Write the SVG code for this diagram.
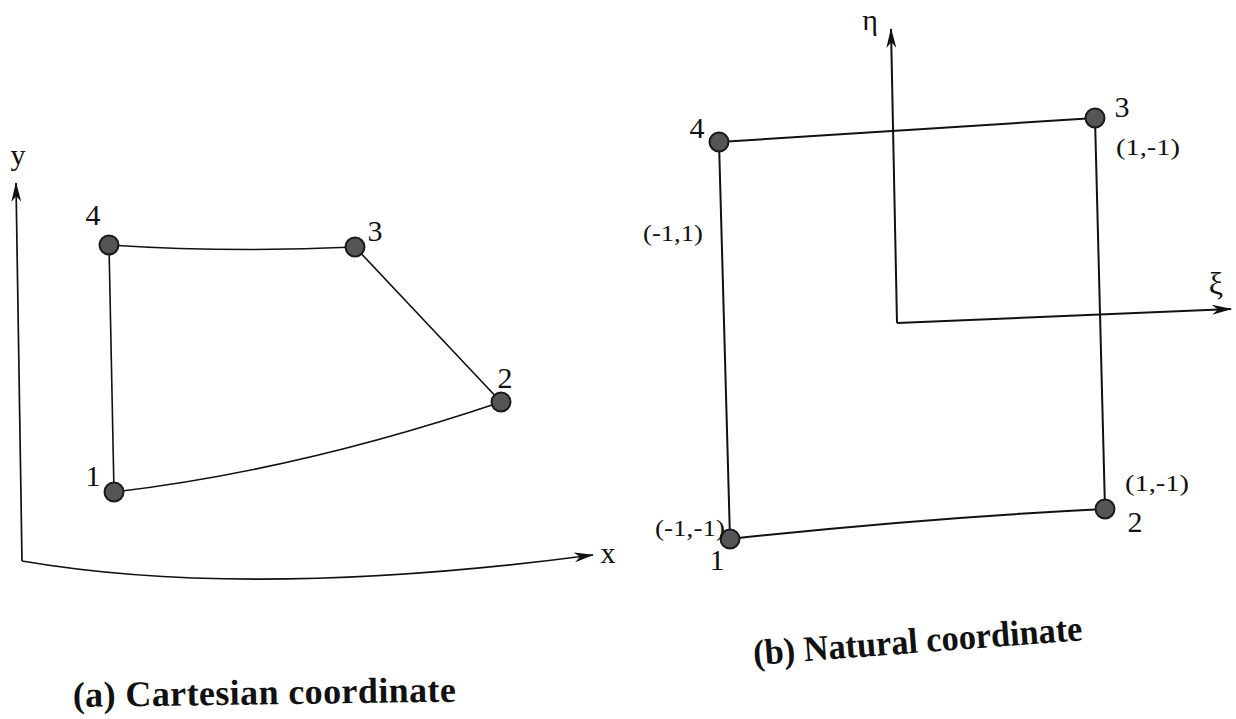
<svg xmlns="http://www.w3.org/2000/svg" width="1236" height="719" viewBox="0 0 1236 719">
<defs>
<marker id="arr" viewBox="0 0 20 10" refX="19" refY="5" markerWidth="20" markerHeight="10" markerUnits="userSpaceOnUse" orient="auto">
<path d="M0,0 L20,5 L0,10 L6,5 Z" fill="#111"/>
</marker>
<style>
.bg{fill:#fff}
.ln{fill:none;stroke:#111;stroke-width:1.6}
.ln2{fill:none;stroke:#111;stroke-width:2}
.ax{fill:none;stroke:#111;stroke-width:1.7;marker-end:url(#arr)}
.node{fill:#555;stroke:#1a1a1a;stroke-width:2}
.num{font-family:"Liberation Serif","Times New Roman",serif;font-size:30px;fill:#111;text-anchor:middle}
.crd{font-family:"Liberation Serif","Times New Roman",serif;font-size:24px;fill:#111;text-anchor:middle}
.axl{font-family:"Liberation Serif","Times New Roman",serif;font-size:30px;fill:#111;text-anchor:middle}
.cap{font-family:"Liberation Serif","Times New Roman",serif;font-size:36px;font-weight:bold;fill:#111}
</style>
</defs>
<rect class="bg" x="0" y="0" width="1236" height="719"/>

<g id="connectors">
<!-- left: Cartesian -->
<path class="ax" d="M22,561 L16,183"/>
<path class="ax" d="M22,561 Q250,600 593,555"/>
<path class="ln" d="M109,245 Q232,253 355,247"/>
<path class="ln" d="M355,247 L501,402"/>
<path class="ln" d="M501,402 Q300,470 114,492"/>
<path class="ln" d="M109,245 L114,492"/>
<!-- right: Natural -->
<path class="ln2" d="M719,142 L1095,118"/>
<path class="ln2" d="M1095,118 L1105,509"/>
<path class="ln2" d="M1105,509 Q920,518 730,539"/>
<path class="ln2" d="M719,142 L730,539"/>
<path class="ax" style="stroke-width:2" d="M897,323 L891,29"/>
<path class="ax" style="stroke-width:2" d="M897,323 L1231,309"/>
</g>

<g id="axis-labels">
<text class="axl" x="18" y="165">y</text>
<text class="axl" x="608" y="563">x</text>
<text class="axl" x="870" y="30">η</text>
<text class="axl" x="1216" y="294" style="font-size:32px">ξ</text>
</g>

<g id="cart-node-1"><circle class="node" cx="114" cy="492" r="9.5"/><text class="num" x="93" y="486">1</text></g>
<g id="cart-node-2"><circle class="node" cx="501" cy="402" r="9.5"/><text class="num" x="505" y="388">2</text></g>
<g id="cart-node-3"><circle class="node" cx="355" cy="247" r="9.5"/><text class="num" x="375" y="241">3</text></g>
<g id="cart-node-4"><circle class="node" cx="109" cy="245" r="9.5"/><text class="num" x="93" y="225">4</text></g>

<g id="nat-node-1"><circle class="node" cx="730" cy="539" r="9.5"/><text class="num" x="717" y="570">1</text><text class="crd" x="690" y="536" textLength="70" lengthAdjust="spacingAndGlyphs">(-1,-1)</text></g>
<g id="nat-node-2"><circle class="node" cx="1105" cy="509" r="9.5"/><text class="num" x="1135" y="532">2</text><text class="crd" x="1157" y="491" textLength="64" lengthAdjust="spacingAndGlyphs">(1,-1)</text></g>
<g id="nat-node-3"><circle class="node" cx="1095" cy="118" r="9.5"/><text class="num" x="1122" y="117">3</text><text class="crd" x="1148" y="155" textLength="64" lengthAdjust="spacingAndGlyphs">(1,-1)</text></g>
<g id="nat-node-4"><circle class="node" cx="719" cy="142" r="9.5"/><text class="num" x="697" y="138">4</text><text class="crd" x="673" y="241" textLength="60" lengthAdjust="spacingAndGlyphs">(-1,1)</text></g>

<g id="captions">
<text class="cap" x="73" y="707" textLength="383" lengthAdjust="spacing" transform="rotate(-0.8 73 707)">(a) Cartesian coordinate</text>
<text class="cap" x="754" y="665" textLength="330" lengthAdjust="spacingAndGlyphs" transform="rotate(-4.3 754 665)">(b) Natural coordinate</text>
</g>
</svg>
